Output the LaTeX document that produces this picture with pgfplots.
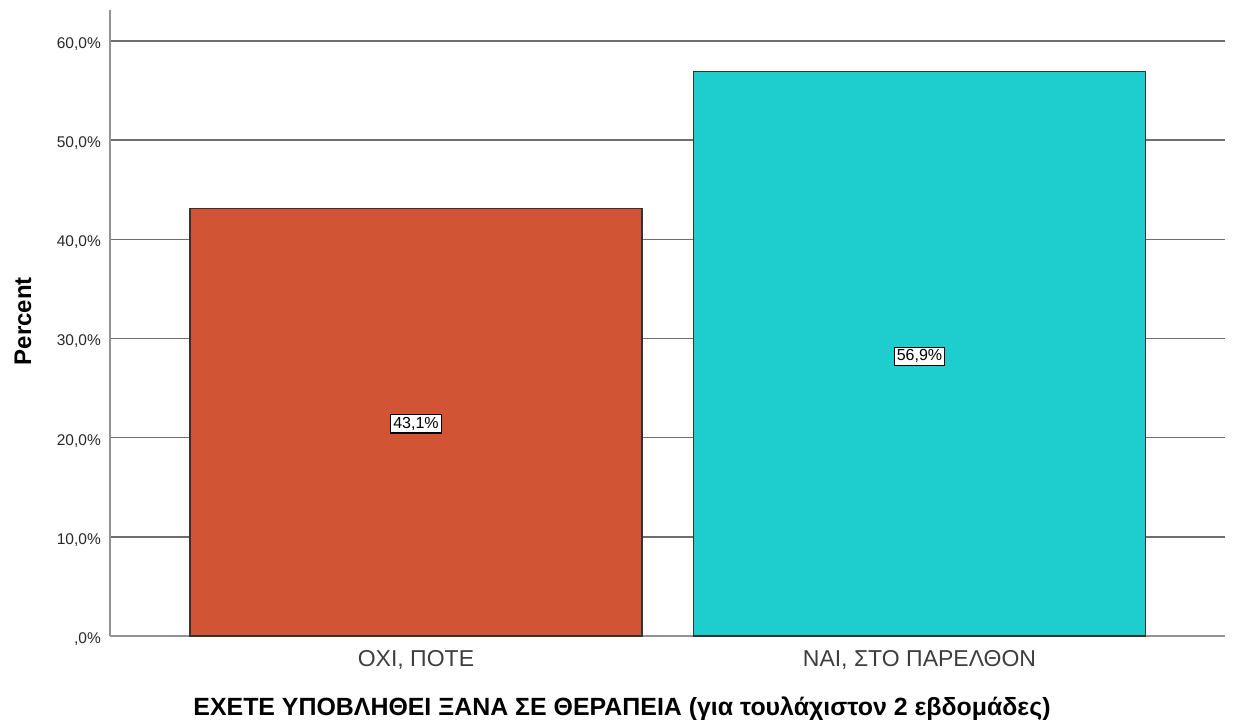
\documentclass[border=0pt]{standalone}
\usepackage{pgfplots}
\pgfplotsset{compat=1.18}
\usepackage{fontspec}
\setmainfont{Liberation Sans}
\definecolor{barA}{RGB}{209,85,53}
\definecolor{barB}{RGB}{30,206,206}
\definecolor{gridc}{RGB}{110,110,110}
\definecolor{txt}{RGB}{40,40,40}
\begin{document}
\begin{tikzpicture}
\useasboundingbox (-110pt,-84pt) rectangle (1124pt,636pt);
\begin{axis}[
  at={(0pt,0pt)}, anchor=south west,
  scale only axis, width=1115pt, height=626pt,
  xmin=-0.6077, xmax=1.6068, ymin=0, ymax=63.13,
  axis x line=bottom, axis y line=left,
  axis line style={-, line width=1.6pt, color=gray!85},
  xtick={0,1},
  xticklabels={{ΟΧΙ, ΠΟΤΕ},{ΝΑΙ, ΣΤΟ ΠΑΡΕΛΘΟΝ}},
  ytick={0,10,20,30,40,50,60},
  yticklabels={{,0\%},{10,0\%},{20,0\%},{30,0\%},{40,0\%},{50,0\%},{60,0\%}},
  major tick length=0pt,
  ymajorgrids, grid style={line width=1.6pt, color=gridc},
  yticklabel style={font=\fontsize{15.5}{18}\selectfont, text=txt, anchor=east, inner sep=0pt, xshift=-9pt, yshift=-3pt},
  xticklabel style={font=\fontsize{23}{26}\selectfont, text=txt!90!white, anchor=north, inner sep=0pt, yshift=-14pt},
  xlabel={ΕΧΕΤΕ ΥΠΟΒΛΗΘΕΙ ΞΑΝΑ ΣΕ ΘΕΡΑΠΕΙΑ (για τουλάχιστον 2 εβδομάδες)},
  xlabel style={font=\bfseries\fontsize{24.9}{28}\selectfont, at={(rel axis cs:0.4592,0)}, anchor=base, inner sep=0pt, yshift=-79pt},
  ylabel={Percent},
  ylabel style={font=\bfseries\fontsize{24}{28}\selectfont, at={(rel axis cs:0,0.503)}, anchor=center, inner sep=0pt, yshift=87pt},
  ybar, bar shift=0pt, bar width=0.8977,
  clip=false,
]
\addplot[fill=barA, draw=black!80, line width=1.4pt] coordinates {(0,43.1)};
\addplot[fill=barB, draw=black!80, line width=1.4pt] coordinates {(1,56.9)};
\addplot[draw=none, fill=none, only marks, mark=none,
  point meta=explicit symbolic,
  nodes near coords,
  nodes near coords style={anchor=center, fill=white, draw=black, line width=1.3pt, inner sep=2.5pt, font=\fontsize{16}{18}\selectfont, text=black}]
  coordinates {(0,21.4)[43,1\%] (1,28.2)[56,9\%]};
\end{axis}
\end{tikzpicture}
\end{document}
